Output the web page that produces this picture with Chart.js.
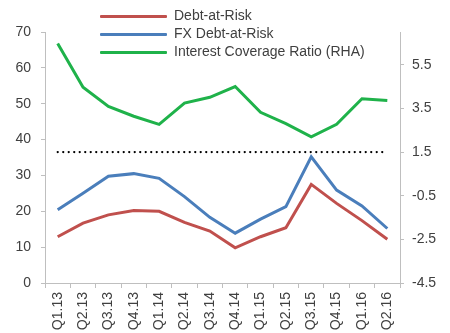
<!DOCTYPE html>
<html>
<head>
<meta charset="utf-8">
<script src="https://cdn.jsdelivr.net/npm/chart.js@4.4.1/dist/chart.umd.min.js"></script>
<style>
  html, body { margin: 0; padding: 0; background: #fff; }
  #wrap { position: relative; width: 450px; height: 333px; }
  #legend { position: absolute; left: 100px; top: 6px; font: 14px "Liberation Sans", Arial, sans-serif; color: #404040; }
  #legend div { height: 18px; line-height: 18px; white-space: nowrap; }
  #legend span { display: inline-block; width: 67px; height: 3px; vertical-align: middle; margin-right: 7px; border-radius: 1px; }
</style>
</head>
<body>
<div id="wrap">
  <canvas id="risk" width="450" height="333"></canvas>
  <div id="legend"></div>
</div>
<script>
const quarters=['Q1.13','Q2.13','Q3.13','Q4.13','Q1.14','Q2.14','Q3.14','Q4.14','Q1.15','Q2.15','Q3.15','Q4.15','Q1.16','Q2.16'];
const debtAtRisk=[12.9,16.7,19.0,20.2,20.0,16.9,14.5,9.8,12.9,15.4,27.5,22.2,17.4,12.2];
const fxDebtAtRisk=[20.4,25.0,29.8,30.5,29.2,24.1,18.3,13.9,17.8,21.3,35.2,25.9,21.5,15.2];
const coverage=[6.47,4.47,3.59,3.14,2.77,3.74,4.01,4.5,3.32,2.8,2.2,2.77,3.94,3.86];
const threshold=1.5;
const leftTicks=[0,10,20,30,40,50,60,70];
const rightTicks=[-4.5,-2.5,-0.5,1.5,3.5,5.5];

const font={family:'"Liberation Sans", Arial, sans-serif',size:14};
const axisGrey='#bfbfbf';

const chart=new Chart(document.getElementById('risk'),{
  type:'line',
  data:{
    labels:quarters,
    datasets:[
      {label:'Debt-at-Risk',data:debtAtRisk,borderColor:'#c0504d',yAxisID:'y'},
      {label:'FX Debt-at-Risk',data:fxDebtAtRisk,borderColor:'#4a7ebb',yAxisID:'y'},
      {label:'Interest Coverage Ratio (RHA)',data:coverage,borderColor:'#1fb24a',yAxisID:'y1'},
      {label:'threshold',data:quarters.map(()=>threshold),borderColor:'#000',borderWidth:2.2,
       borderDash:[0.1,5.4],borderCapStyle:'round',yAxisID:'y1'}
    ]
  },
  options:{
    responsive:false,
    animation:false,
    layout:{padding:{top:32,left:0,right:0,bottom:0}},
    elements:{
      line:{borderWidth:3,tension:0,borderJoinStyle:'miter'},
      point:{radius:0}
    },
    plugins:{legend:{display:false},tooltip:{enabled:false}},
    scales:{
      x:{
        offset:true,
        grid:{offset:true,drawOnChartArea:false,tickLength:5,color:axisGrey},
        border:{color:axisGrey},
        ticks:{font:font,color:'#404040',minRotation:90,maxRotation:90,padding:4,autoSkip:false},
        afterFit:function(s){s.height=50;}
      },
      y:{
        position:'left',min:0,max:70,
        grid:{drawOnChartArea:false,tickLength:4,color:axisGrey},
        border:{color:axisGrey},
        ticks:{font:font,color:'#404040',padding:10},
        afterBuildTicks:function(s){s.ticks=leftTicks.map(v=>({value:v}));},
        afterFit:function(s){s.width=45;}
      },
      y1:{
        position:'right',min:-4.5,max:7,
        grid:{drawOnChartArea:false,tickLength:4,color:axisGrey},
        border:{color:axisGrey},
        ticks:{font:font,color:'#404040',padding:8,callback:v=>v.toFixed(1)},
        afterBuildTicks:function(s){s.ticks=rightTicks.map(v=>({value:v}));},
        afterFit:function(s){s.width=50;}
      }
    }
  }
});

// legend: first three series stacked in a column
const legend=document.getElementById('legend');
chart.data.datasets.slice(0,3).forEach(function(ds){
  const row=document.createElement('div');
  row.innerHTML='<span style="background:'+ds.borderColor+'"></span>'+ds.label;
  legend.appendChild(row);
});
</script>
</body>
</html>
